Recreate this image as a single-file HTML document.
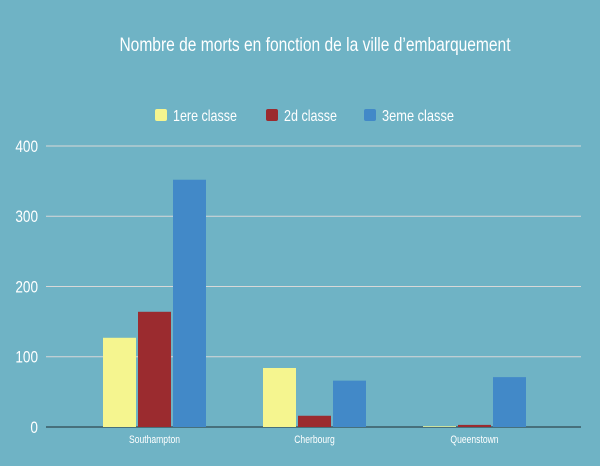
<!DOCTYPE html>
<html><head><meta charset="utf-8"><style>
html,body{margin:0;padding:0;background:#6fb3c5;}
svg{display:block;}
text{font-family:"Liberation Sans Narrow","Liberation Sans",sans-serif;fill:#fff;}
</style></head><body>
<svg id="chart" width="600" height="466" viewBox="0 0 600 466">
<rect x="0" y="0" width="600" height="466" fill="#6fb3c5"/>
<text x="315" y="51" text-anchor="middle" font-size="19" transform="translate(315,0) scale(0.82,1) translate(-315,0)">Nombre de morts en fonction de la ville d’embarquement</text>
<g id="legend"></g>
<g id="grid"></g>
<g id="bars"></g>
<g id="xlabels"></g>
</svg>
<script>
const categories = ["Southampton","Cherbourg","Queenstown"];
const seriesNames = ["1ere classe","2d classe","3eme classe"];
const first = [127, 84, 1];
const second = [164, 16, 3];
const third = [352, 66, 71];
const yTicks = [0,100,200,300,400];
const colors = ["#f5f58f","#9b2b2f","#4289c8"];
const NS="http://www.w3.org/2000/svg";
const x0=46,x1=581,y0=427,yTop=146,yMax=400;
const yScale=v=>y0-(v/yMax)*(y0-yTop);
const band=160, firstCenter=154.5;
const xCenter=i=>firstCenter+band*i;
function mk(tag,attrs,parent){const e=document.createElementNS(NS,tag);for(const k in attrs)e.setAttribute(k,attrs[k]);parent.appendChild(e);return e;}
const grid=document.getElementById('grid');
yTicks.forEach(t=>{
  const y=yScale(t);
  const l=mk('line',{x1:x0,x2:x1,y1:y,y2:y,stroke:t===0?'#1f2d33':'#d8d8d8','stroke-width':1},grid);
  
  
  const tx=mk('text',{x:38,y:y+6,'text-anchor':'end','font-size':17,transform:'translate(38,0) scale(0.8,1) translate(-38,0)'},grid);
  tx.textContent=t;
  
  
});
const bars=document.getElementById('bars');
const series=[first,second,third];
const bw=33,gap=2;
series.forEach((s,si)=>{
  s.forEach((v,ci)=>{
    const cx=xCenter(ci)+(si-1)*(bw+gap);
    const y=yScale(v);
    const r=mk('rect',{x:cx-bw/2,y:y,width:bw,height:y0-y,fill:colors[si]},bars);
    
    
  });
});
const xl=document.getElementById('xlabels');
categories.forEach((c,i)=>{
  const t=mk('text',{x:xCenter(i),y:443,'text-anchor':'middle','font-size':11,transform:'translate('+xCenter(i)+',0) scale(0.78,1) translate('+(-xCenter(i))+',0)'},xl);
  t.textContent=c;
  
  
});
const lg=document.getElementById('legend');
const lx=[155,266,364];
seriesNames.forEach((n,i)=>{
  const r=mk('rect',{x:lx[i],y:109,width:12,height:12,rx:2,fill:colors[i]},lg);
  
  
  const t=mk('text',{x:lx[i]+18,y:121,'font-size':16,textLength:[64,53,72][i],lengthAdjust:'spacingAndGlyphs'},lg);
  t.textContent=n;
  
  
});
</script>
</body></html>
